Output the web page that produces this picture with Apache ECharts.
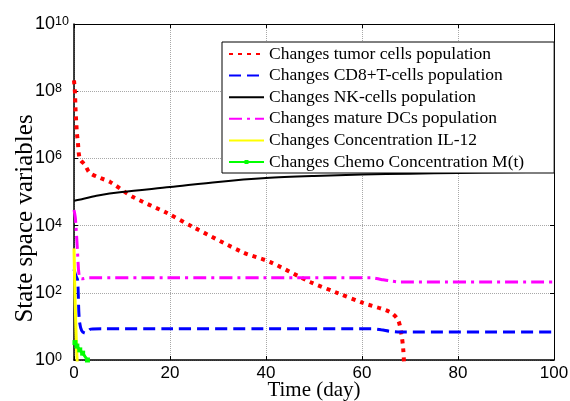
<!DOCTYPE html>
<html>
<head>
<meta charset="utf-8">
<script src="https://cdn.jsdelivr.net/npm/echarts@6/dist/echarts.min.js"></script>
<style>
html,body{margin:0;padding:0;background:#fff;}
#c{width:570px;height:401px;}
</style>
</head>
<body>
<div id="c"></div>
<script>
// ---- data ----
const seriesNames = [
  'Changes tumor cells population',
  'Changes CD8+T-cells population',
  'Changes NK-cells population',
  'Changes mature DCs population',
  'Changes Concentration IL-12',
  'Changes Chemo Concentration M(t)'
];
const tumorDays   = [0, 0.2, 0.3, 0.4, 0.5, 0.6, 0.8, 1.2, 2.3, 3.3, 5.5, 7.5, 12.3, 19.3, 24.8, 35.2, 40.8, 49.2, 54.8, 60.2, 65.8, 67.5, 68.2, 68.6, 68.9];
const tumorValues = [2.1e8, 9e7, 3.4e7, 1.7e7, 1.0e7, 5.8e6, 3.1e6, 1.0e6, 6.3e5, 3.7e5, 2.6e5, 2.0e5, 7.1e4, 2.4e4, 9.1e3, 1.6e3, 830, 210, 100, 50, 27, 15.5, 6, 2, 0.3];

const cd8Days   = [0, 0.4, 0.75, 1.1, 1.6, 2.4, 3.5, 6, 20, 40, 62, 64, 66, 68, 100];
const cd8Values = [500, 320, 240, 16, 7.5, 6.3, 8.3, 8.5, 8.5, 8.5, 8.5, 7.9, 7.1, 6.8, 6.8];

const nkDays   = [0, 0.5, 2, 5, 10, 20, 30, 40, 50, 60, 70, 80, 90, 100];
const nkValues = [5.5e4, 5.7e4, 6.3e4, 7.9e4, 1.0e5, 1.4e5, 2.0e5, 2.6e5, 3.0e5, 3.3e5, 3.5e5, 3.7e5, 3.9e5, 4.0e5];

const dcDays   = [0, 0.3, 0.7, 1.1, 1.6, 3, 20, 40, 62, 64, 66, 68, 100];
const dcValues = [2.9e4, 1.6e4, 2000, 300, 260, 280, 280, 280, 280, 250, 225, 210, 210];

const il12Days   = [0, 0.1, 0.2, 0.35, 0.5, 0.65, 0.8];
const il12Values = [2100, 400, 80, 15, 3, 1, 0.3];

const chemoDays   = [0.2, 0.6, 1.2, 1.8, 2.8];
const chemoValues = [3.3, 2.6, 2.0, 1.6, 1.0];

const xTicks = [0, 20, 40, 60, 80, 100];
const yExponents = [0, 2, 4, 6, 8, 10];

const zip = (a, b) => a.map((t, i) => [t, b[i]]);

// ---- chart ----
const serif = 'Liberation Serif';
const sans = 'Liberation Sans';
const chart = echarts.init(document.getElementById('c'), null, {renderer: 'canvas'});

const gridSplit = {show: true, lineStyle: {color: '#a8a8a8', type: [1, 1], width: 1}};

const option = {
  animation: false,
  backgroundColor: '#fff',
  grid: {left: 74, top: 24, right: 16, bottom: 41, containLabel: false, outerBoundsMode: 'none'},
  legend: {
    orient: 'vertical',
    left: 222, top: 42,
    padding: [3, 30, 2, 6],
    itemWidth: 35, itemHeight: 5, itemGap: 3.6,
    backgroundColor: '#fff',
    borderColor: '#000', borderWidth: 1,
    textStyle: {fontFamily: serif, fontSize: 17.5, color: '#000', lineHeight: 18},
    data: seriesNames.map((n, i) => i === 5 ? {name: n} : {name: n, itemStyle: {opacity: 0}})
  },
  xAxis: [{
    type: 'value', min: xTicks[0], max: xTicks[xTicks.length - 1], interval: 20,
    name: 'Time (day)', nameLocation: 'middle', nameGap: 20, nameMoveOverlap: false,
    nameTextStyle: {fontFamily: serif, fontSize: 21, color: '#000'},
    axisLine: {show: true, onZero: false, lineStyle: {color: '#000', width: 1.5}},
    axisTick: {show: true, inside: true, length: 4, lineStyle: {color: '#000'}},
    axisLabel: {fontFamily: sans, fontSize: 17, color: '#000', margin: 5},
    splitLine: gridSplit
  }, {
    type: 'value', position: 'top', min: 0, max: 100, interval: 20,
    axisLine: {show: true, onZero: false, lineStyle: {color: '#000', width: 1}},
    axisTick: {show: true, inside: true, length: 4, lineStyle: {color: '#000'}},
    axisLabel: {show: false}, splitLine: {show: false}
  }],
  yAxis: [{
    type: 'log', logBase: 10, min: Math.pow(10, yExponents[0]), max: Math.pow(10, yExponents[yExponents.length - 1]),
    interval: 2, splitNumber: 5,
    name: 'State space variables', nameLocation: 'middle', nameGap: 36, nameRotate: 90, nameMoveOverlap: false,
    nameTextStyle: {fontFamily: serif, fontSize: 25, color: '#000', padding: [0, 53, 0, 0]},
    axisLine: {show: true, onZero: false, lineStyle: {color: '#000', width: 1.5}},
    axisTick: {show: true, inside: true, length: 4, lineStyle: {color: '#000'}},
    axisLabel: {
      align: 'left', margin: 39,
      formatter: v => '{b|10}{s|' + Math.round(Math.log10(v)) + '}',
      rich: {
        b: {fontFamily: sans, fontSize: 18, color: '#000', lineHeight: 18, padding: [6, 0, 6, 0], verticalAlign: 'middle'},
        s: {fontFamily: sans, fontSize: 12.5, color: '#000', lineHeight: 12, verticalAlign: 'top'}
      }
    },
    splitLine: gridSplit,
    minorTick: {show: false}
  }, {
    type: 'log', logBase: 10, position: 'right', min: 1, max: 1e10, interval: 2, splitNumber: 5,
    axisLine: {show: true, onZero: false, lineStyle: {color: '#000', width: 1}},
    axisTick: {show: true, inside: true, length: 4, lineStyle: {color: '#000'}},
    axisLabel: {show: false}, splitLine: {show: false}
  }],
  series: [
    {name: seriesNames[0], type: 'line', data: zip(tumorDays, tumorValues), symbol: 'none', smooth: 0.3,
     lineStyle: {color: '#ff0000', width: 4, type: [4, 5], cap: 'butt'}, itemStyle: {color: '#ff0000'}},
    {name: seriesNames[1], type: 'line', data: zip(cd8Days, cd8Values), symbol: 'none', smooth: 0.3,
     lineStyle: {color: '#0000ff', width: 3, type: [12, 6]}, itemStyle: {color: '#0000ff'}},
    {name: seriesNames[2], type: 'line', data: zip(nkDays, nkValues), symbol: 'none', smooth: 0.3,
     lineStyle: {color: '#000000', width: 2}, itemStyle: {color: '#000000'}},
    {name: seriesNames[3], type: 'line', data: zip(dcDays, dcValues), symbol: 'none', smooth: 0.3,
     lineStyle: {color: '#ff00ff', width: 3, type: [13, 5, 3, 5]}, itemStyle: {color: '#ff00ff'}},
    {name: seriesNames[4], type: 'line', data: zip(il12Days, il12Values), symbol: 'none', smooth: 0.3,
     lineStyle: {color: '#ffff00', width: 3}, itemStyle: {color: '#ffff00'}},
    {name: seriesNames[5], type: 'line', data: zip(chemoDays, chemoValues), symbol: 'rect', symbolSize: 5,
     lineStyle: {color: '#00ff00', width: 3}, itemStyle: {color: '#00ff00'}}
  ]
};
chart.setOption(option);
</script>
</body>
</html>
